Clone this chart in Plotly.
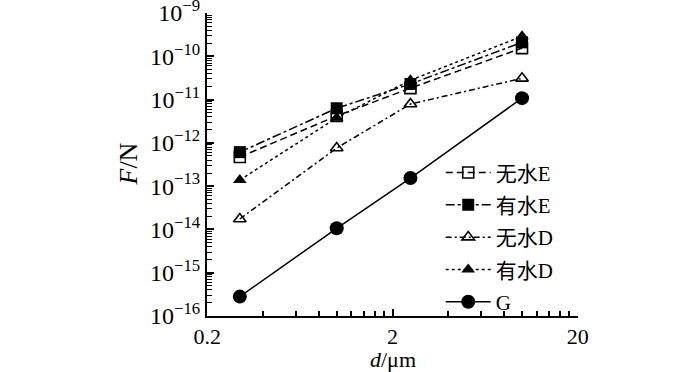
import plotly.graph_objects as go
import numpy as np

d_um = [0.3, 1.0, 2.5, 10.0]
wushui_E = [4.7e-13, 4.2e-12, 1.84e-11, 1.55e-10]
youshui_E = [6.1e-13, 6.3e-12, 2.3e-11, 2.1e-10]
wushui_D = [1.74e-14, 7.6e-13, 7.9e-12, 3.1e-11]
youshui_D = [1.38e-13, 3.8e-12, 2.8e-11, 2.9e-10]
G = [2.8e-16, 1.06e-14, 1.54e-13, 1.08e-11]

names = ["无水E", "有水E", "无水D", "有水D", "G"]

x_major = [0.2, 2, 20]
x_major_labels = ["0.2", "2", "20"]
x_minor = [0.4, 0.6, 0.8, 1.0, 1.2, 1.4, 1.6, 1.8, 4, 6, 8, 10, 12, 14, 16, 18]
y_decades = list(range(-16, -8))

FONT = "Liberation Serif, Times New Roman, Noto Sans CJK SC, serif"

fig = go.Figure()
series = [
    (wushui_E, dict(symbol="square-open", size=11, color="black", line=dict(width=1.6, color="black")), "7px,4px"),
    (youshui_E, dict(symbol="square", size=12, color="black"), "dashdot"),
    (wushui_D, dict(symbol="triangle-up-open", size=11, color="black", line=dict(width=1.6, color="black")), "6px,3px,2px,3px"),
    (youshui_D, dict(symbol="triangle-up", size=12, color="black"), "dot"),
    (G, dict(symbol="circle", size=14, color="black"), "solid"),
]
for (ys, mk, dash), nm in zip(series, names):
    fig.add_trace(go.Scatter(
        x=d_um, y=ys, name=nm, mode="lines+markers", legendgroup=nm,
        line=dict(color="black", width=1.5, dash=dash),
        marker=mk,
    ))

# invisible trace to carry the minor-tick overlay axes
fig.add_trace(go.Scatter(x=[None], y=[None], xaxis="x2", yaxis="y2",
                         showlegend=False, hoverinfo="skip"))

y_major = [10.0 ** e for e in y_decades]
y_major_text = [f"10<sup>−{-e}</sup>" for e in y_decades]
y_minor = [m * 10.0 ** e for e in y_decades[:-1] for m in range(2, 10)]

xr = [np.log10(0.2) - 0.001, np.log10(20) + 0.001]
yr = [-16.001, -8.999]

fig.update_layout(
    width=700, height=372,
    margin=dict(l=207, r=122, t=13, b=56),
    paper_bgcolor="white", plot_bgcolor="white",
    font=dict(family=FONT, size=20, color="black"),
    showlegend=True,
    legend=dict(
        x=0.63, y=0.54, xanchor="left", yanchor="top",
        bgcolor="rgba(0,0,0,0)", font=dict(size=21, family=FONT),
        tracegroupgap=2, itemwidth=45,
    ),
    xaxis=dict(
        type="log", range=xr, automargin=False,
        tickvals=x_major, ticktext=x_major_labels,
        ticks="inside", ticklen=7, tickwidth=1.5, tickcolor="black",
        showline=True, linecolor="black", linewidth=2,
        showgrid=False, zeroline=False,
        tickfont=dict(size=22, family=FONT),
    ),
    xaxis2=dict(
        type="log", range=xr, overlaying="x", anchor="y", automargin=False,
        tickvals=x_minor, showticklabels=False,
        ticks="inside", ticklen=5, tickwidth=1.5, tickcolor="black",
        showline=False, showgrid=False, zeroline=False,
    ),
    yaxis=dict(
        type="log", range=yr, automargin=False,
        tickvals=y_major, ticktext=y_major_text, ticklabeloverflow="allow",
        ticks="inside", ticklen=7, tickwidth=1.5, tickcolor="black",
        showline=True, linecolor="black", linewidth=2,
        showgrid=False, zeroline=False,
        tickfont=dict(size=24, family=FONT),
    ),
    yaxis2=dict(
        type="log", range=yr, overlaying="y", anchor="x", side="left", automargin=False,
        tickvals=y_minor, showticklabels=False,
        ticks="inside", ticklen=5, tickwidth=1.2, tickcolor="black",
        showline=False, showgrid=False, zeroline=False,
    ),
    annotations=[
        dict(text="<i>d</i>/μm", xref="paper", yref="paper", x=0.5, y=0,
             xanchor="center", yanchor="middle", yshift=-43, showarrow=False,
             font=dict(size=22, family=FONT)),
        dict(text="<i>F</i>/N", xref="paper", yref="paper", x=0, y=0.5,
             xanchor="center", yanchor="middle", xshift=-79, textangle=-90,
             showarrow=False, font=dict(size=26, family=FONT)),
    ],
)

fig.write_html("out.html", config={"displayModeBar": False},
               post_script="document.body.style.margin='0';")
